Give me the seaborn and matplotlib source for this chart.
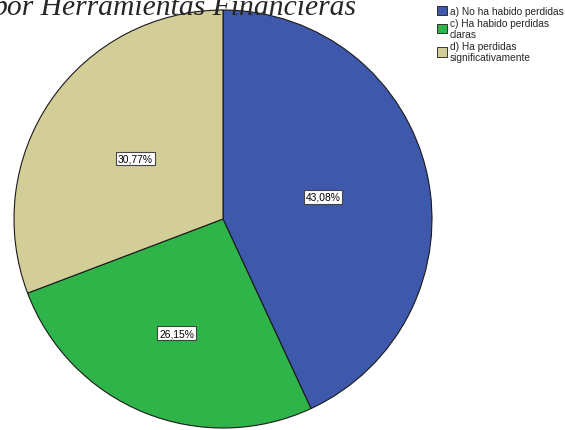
import numpy as np
import matplotlib
matplotlib.use("Agg")
import matplotlib.pyplot as plt
import seaborn as sns


# =========================================================
# DATA
# =========================================================

categories = [
    "a) No ha habido perdidas",
    "c) Ha habido perdidas\nclaras",
    "d) Ha perdidas\nsignificativamente"
]

percentages = [43.08, 26.15, 30.77]

slice_colors = ["#3e58ac", "#2fb44a", "#d3ce98"]

title_text = "por Herramientas Financieras"


# =========================================================
# STYLE
# =========================================================

sns.set_theme(style="white")

plt.rcParams["font.family"] = ["Liberation Sans", "DejaVu Sans"]

palette = sns.color_palette(slice_colors)


# =========================================================
# FIGURE
# =========================================================

W, H = 565, 431

fig = plt.figure(figsize=(W / 100, H / 100), dpi=100)

cx, cy, r = 223, 220, 209

ax = fig.add_axes([
    (cx - r) / W,
    (H - cy - r) / H,
    2 * r / W,
    2 * r / H
])

wedges, _ = ax.pie(
    percentages,
    colors=palette,
    startangle=90,
    counterclock=False,
    radius=1,
    wedgeprops=dict(edgecolor="#1a1a1a", linewidth=0.8)
)

ax.set_xlim(-1, 1)
ax.set_ylim(-1, 1)
ax.set_aspect("equal")
ax.axis("off")


# =========================================================
# PERCENT LABELS
# =========================================================

label_dist = [0.49, 0.59, 0.51]

for wedge, pct, dist in zip(wedges, percentages, label_dist):

    mid = np.deg2rad((wedge.theta1 + wedge.theta2) / 2)

    ax.text(
        dist * np.cos(mid),
        dist * np.sin(mid),
        f"{pct:.2f}%".replace(".", ","),
        ha="center",
        va="center",
        fontsize=7.4,
        color="black",
        bbox=dict(
            boxstyle="square,pad=0.18",
            facecolor="white",
            edgecolor="#444444",
            linewidth=0.8
        )
    )


# =========================================================
# TITLE (clipped at top)
# =========================================================

fig.text(
    357 / W,
    1 - 15 / H,
    title_text,
    ha="right",
    va="baseline",
    fontsize=21.3,
    style="italic",
    family=["Liberation Serif", "DejaVu Serif"]
)


# =========================================================
# LEGEND
# =========================================================

ax.legend(
    wedges,
    categories,
    loc="upper left",
    bbox_to_anchor=(437 / W, 1 - 7 / H),
    bbox_transform=fig.transFigure,
    frameon=False,
    fontsize=7.3,
    handlelength=1.0,
    handleheight=1.0,
    handletextpad=0.25,
    labelspacing=0.15,
    borderpad=0,
    borderaxespad=0
)

for h in ax.get_legend().legend_handles:
    h.set_linewidth(0.6)

fig.savefig("out.png", dpi=100)
